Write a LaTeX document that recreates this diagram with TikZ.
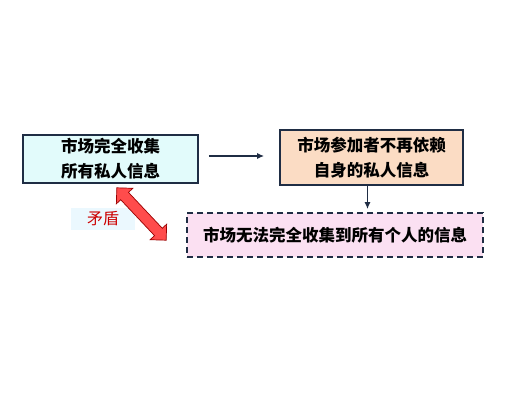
\documentclass[tikz,border=0pt]{standalone}
\usepackage{fontspec}
\setmainfont{Noto Sans CJK SC}
\usepackage{xcolor}
\usetikzlibrary{arrows.meta, positioning, calc, shapes.arrows}

\definecolor{edge}{HTML}{1F2D44}
\definecolor{cyanfill}{HTML}{E2FBFB}
\definecolor{peachfill}{HTML}{FBDCC4}
\definecolor{pinkfill}{HTML}{FBE0F2}

\begin{document}
\begin{tikzpicture}[x=1pt, y=-1pt,
    block/.style={rectangle, draw=edge, line width=1.7pt, align=center, font=\fontsize{16.5}{25}\selectfont\bfseries, inner sep=2pt},
    dashblock/.style={block, dashed, dash pattern=on 6pt off 4pt},
    arrow/.style={-{Latex[length=7pt, width=6pt]}, draw=edge, line width=1.3pt}]

    \useasboundingbox (0,0) rectangle (508,407);

    \node (collect) [block, fill=cyanfill, minimum width=175pt, minimum height=48pt] at (110.5,159) {市场完全收集\\所有私人信息};
    \node (depend) [block, fill=peachfill, minimum width=183pt, minimum height=55pt] at (371.5,157.5) {市场参加者不再依赖\\自身的私人信息};
    \node (fail) [dashblock, fill=pinkfill, minimum width=296pt, minimum height=44pt] at (335,235) {市场无法完全收集到所有个人的信息};

    \node (conflict) [fill=cyan!8, text=red!80!black, font=\fontsize{16}{18}\selectfont, minimum width=64pt, minimum height=22pt, inner sep=1pt] at (103,219) {矛盾};
    \node (clash) [double arrow, fill=red!70, draw=red!60!black, line width=0.7pt, minimum height=72pt, inner xsep=1pt, inner ysep=5pt, double arrow head extend=6pt, double arrow head indent=0pt, rotate=-46.7] at (141.5,214) {};

    \draw [arrow, shorten <=10pt, shorten >=15pt] ([yshift=3pt]collect.east) -- ([yshift=3pt]collect.east -| depend.west);
    \draw [arrow, shorten >=3pt] ([xshift=-4pt]depend.south) -- ([xshift=-4pt]depend.south |- fail.north);

\end{tikzpicture}
\end{document}
